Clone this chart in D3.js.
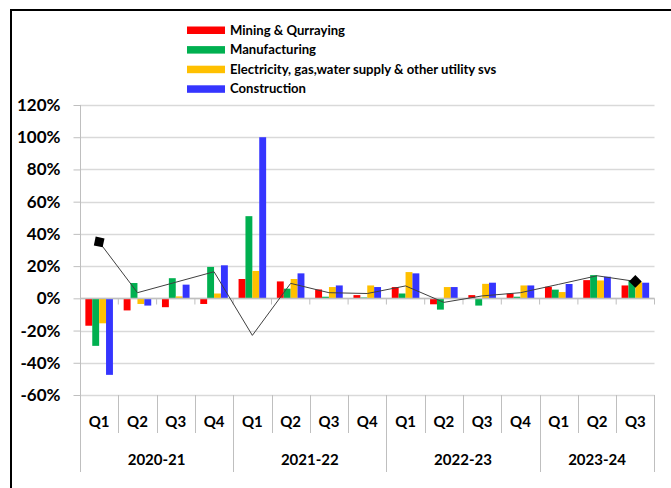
<!DOCTYPE html>
<html><head><meta charset="utf-8">
<script src="https://cdn.jsdelivr.net/npm/d3@7"></script>
<style>
html,body{margin:0;padding:0;background:#fff;}
svg{display:block;font-family:Lato,"Open Sans",sans-serif;}
</style></head>
<body><svg id="chart" width="671" height="488"></svg>
<script>
const quarters = ["Q1","Q2","Q3","Q4","Q1","Q2","Q3","Q4","Q1","Q2","Q3","Q4","Q1","Q2","Q3"];
const years = ["2020-21","2021-22","2022-23","2023-24"];
const yearSpans = [4,4,4,3];
const seriesNames = ["Mining & Qurraying","Manufacturing","Electricity, gas,water supply & other utility svs","Construction"];
const seriesColors = ["#FF0000","#00B050","#FFC000","#3535FF"];
const mining        = [-17, -7.5, -5.5, -3.5, 12, 10.5, 5.5, 2, 7, -3.7, 2, 3, 7.2, 11.3, 8];
const manufacturing = [-29.5, 9.5, 12.5, 19.5, 51, 6, 1, 0.5, 3, -7, -4.5, 1, 5.4, 14.4, 11.3];
const electricity   = [-15.5, -3.5, 1.2, 3, 17, 12, 7, 8, 16.3, 7, 9, 8, 3.9, 11.1, 10];
const construction  = [-47.5, -4.5, 8.5, 20.5, 100, 15.5, 8, 7, 15.5, 7, 9.7, 8, 8.9, 13.4, 9.7];
const totalLine     = [35, 3.5, 10, 16.5, -23, 9.3, 3.5, 3, 7.7, -2.5, 1.5, 3.5, 8.7, 14, 10.5];
const yTicks = [-60,-40,-20,0,20,40,60,80,100,120];

const series = [mining, manufacturing, electricity, construction];
const svg = d3.select("#chart");

// frame
svg.append("line").attr("x1",11).attr("x2",671).attr("y1",10).attr("y2",10).attr("stroke","#000").attr("stroke-width",2);
svg.append("line").attr("x1",11).attr("x2",11).attr("y1",9).attr("y2",488).attr("stroke","#000").attr("stroke-width",2);

const L = 80, R = 654.5, T = 105, B = 395;
const x0 = d3.scaleBand().domain(d3.range(quarters.length)).range([L, R]).paddingInner(0).paddingOuter(0);
const bw = x0.bandwidth();
const x1 = d3.scaleBand().domain(d3.range(4)).range([bw*0.14, bw*0.86]).padding(0);
const y = d3.scaleLinear().domain([-60,120]).range([B, T]);

// gridlines
svg.append("g").selectAll("line").data(yTicks).join("line")
  .attr("x1",L).attr("x2",R).attr("y1",d=>Math.round(y(d))+0.5).attr("y2",d=>Math.round(y(d))+0.5)
  .attr("stroke","#d9d9d9").attr("stroke-width",1.3);

// y axis
const yAxis = d3.axisLeft(y).tickValues(yTicks).tickFormat(d=>d+"%").tickSize(7).tickPadding(13);
const ga = svg.append("g").attr("transform",`translate(${L+0.5},0)`).call(yAxis);
ga.select(".domain").attr("stroke","#bfbfbf").attr("d",`M0,${T}V${B+77}`);
ga.selectAll(".tick line").attr("stroke","#bfbfbf");
ga.selectAll(".tick text").attr("font-family","Lato, sans-serif").attr("font-weight","bold").attr("font-size","17px").attr("fill","#000");

// bars
const gBars = svg.append("g");
series.forEach((vals,si)=>{
  gBars.selectAll(null).data(vals).join("rect")
    .attr("x",(d,i)=>x0(i)+x1(si))
    .attr("width",x1.bandwidth())
    .attr("y",d=>y(Math.max(0,d)))
    .attr("height",d=>Math.abs(y(d)-y(0)))
    .attr("fill",seriesColors[si]);
});

// zero axis with ticks between categories
const y0 = Math.round(y(0))+0.5;
svg.append("line").attr("x1",L).attr("x2",R).attr("y1",y0).attr("y2",y0).attr("stroke","#bfbfbf").attr("stroke-width",1.3);
svg.append("g").selectAll("line").data(d3.range(1,quarters.length+1)).join("line")
  .attr("x1",i=>x0(i-1)+bw).attr("x2",i=>x0(i-1)+bw).attr("y1",y0).attr("y2",y0+6)
  .attr("stroke","#bfbfbf");

// line
const lineGen = d3.line().x((d,i)=>x0(i)+bw/2).y(d=>y(d));
svg.append("path").datum(totalLine).attr("d",lineGen).attr("fill","none").attr("stroke","#404040").attr("stroke-width",1);
const first = totalLine[0], last = totalLine[totalLine.length-1];
svg.append("rect").attr("x",-4.5).attr("y",-4.5).attr("width",9).attr("height",9).attr("fill","#000")
  .attr("transform",`translate(${x0(0)+bw/2},${y(first)}) rotate(12)`);
svg.append("rect").attr("x",-4.5).attr("y",-4.5).attr("width",9).attr("height",9).attr("fill","#000")
  .attr("transform",`translate(${x0(totalLine.length-1)+bw/2},${y(last)}) rotate(45)`);

// category axis
const gc = svg.append("g");
gc.selectAll("text.q").data(quarters).join("text")
  .attr("x",(d,i)=>x0(i)+bw/2).attr("y",422).attr("dy","0.35em").attr("text-anchor","middle")
  .attr("font-weight","bold").attr("font-size","15px").text(d=>d);
let acc = 0;
const bounds = [0];
yearSpans.forEach(s=>{acc+=s; bounds.push(acc);});
// quarter separators
d3.range(1,quarters.length).forEach(i=>{
  if(bounds.includes(i)) return;
  const xx = Math.round(x0(i))+0.5;
  gc.append("line").attr("x1",xx).attr("x2",xx).attr("y1",B).attr("y2",433).attr("stroke","#bfbfbf");
});
bounds.forEach(b=>{
  const xx = b===quarters.length ? R : Math.round(x0(b))+0.5;
  gc.append("line").attr("x1",xx).attr("x2",xx).attr("y1",B).attr("y2",472).attr("stroke","#bfbfbf");
});
years.forEach((yr,k)=>{
  const a = bounds[k], b = bounds[k+1];
  const xa = x0(a), xb = b===quarters.length ? R : x0(b);
  gc.append("text").attr("x",(xa+xb)/2).attr("y",460).attr("dy","0.35em").attr("text-anchor","middle")
    .attr("font-weight","bold").attr("font-size","15px").text(yr);
});

// legend
const lg = svg.append("g");
seriesNames.forEach((n,i)=>{
  const cy = 30 + i*19.6;
  lg.append("rect").attr("x",187).attr("y",cy-3.5).attr("width",38).attr("height",7.5).attr("fill",seriesColors[i]);
  lg.append("text").attr("x",230).attr("y",cy).attr("dy","0.35em").attr("font-weight","bold").attr("font-size","13.1px").text(n);
});
</script></body></html>
